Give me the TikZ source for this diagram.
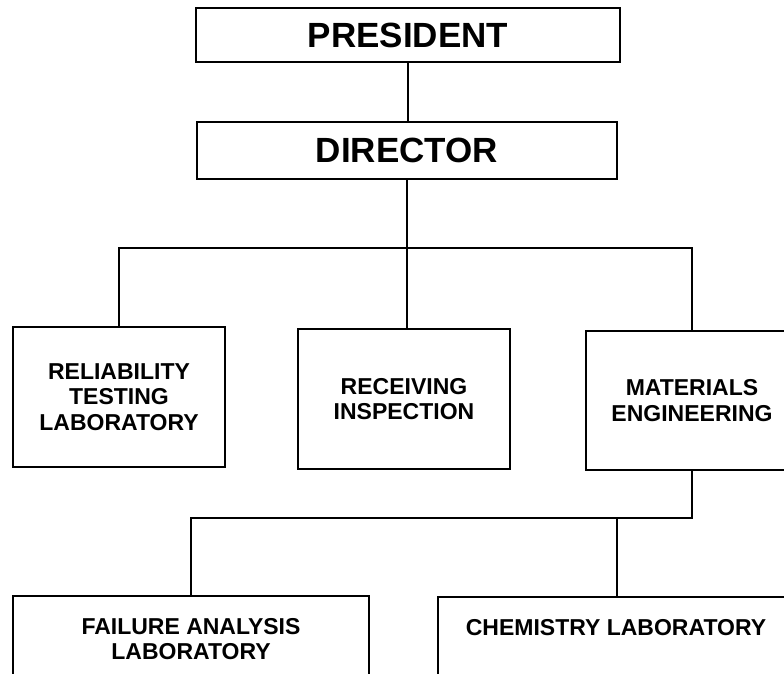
\documentclass[tikz,border=0pt]{standalone}
\usepackage{fontspec}
\setmainfont{Liberation Sans}
\begin{document}
\begin{tikzpicture}[x=1pt,y=-1pt,
  box/.style={draw=black,line width=1.7pt,rectangle,inner sep=0pt,outer sep=0pt,align=center,
    font=\bfseries\fontsize{23}{25.7}\selectfont},
  bigbox/.style={box,font=\bfseries\fontsize{35}{38}\selectfont},
  txt/.style={inner sep=0pt,align=center,font=\bfseries\fontsize{23}{25.7}\selectfont},
  link/.style={draw=black,line width=1.7pt}]
\useasboundingbox (0,0) rectangle (784,673);
\clip (0,0) rectangle (784,673);
\fill[white] (0,0) rectangle (784,673);
% top boxes
\node[bigbox,minimum width=424pt,minimum height=54pt] (pres) at (408,35) {PRESIDENT};
\node[bigbox,minimum width=420pt,minimum height=57pt] (dir) at (407,150.5) {DIRECTOR};
% middle row
\node[box,minimum width=212pt,minimum height=140pt] (rtl) at (119,397) {RELIABILITY\\TESTING\\LABORATORY};
\node[box,minimum width=212pt,minimum height=140pt] (rec) at (404,399) {RECEIVING\\INSPECTION};
\node[box,minimum width=212pt,minimum height=139pt] (mat) at (692,400.5) {MATERIALS\\ENGINEERING};
% bottom row
\node[box,minimum width=356pt,minimum height=86pt] (fail) at (191,639) {FAILURE ANALYSIS\\LABORATORY};
\node[box,minimum width=358pt,minimum height=110pt] (chem) at (617,652) {};
\node[txt] (chemtxt) at (616,628) {CHEMISTRY LABORATORY};
% connectors
\coordinate (bar1) at (405,248);
\coordinate (bar2) at (617,518);
\draw[link] (pres.south) -- (pres.south |- dir.north);
\draw[link] (dir.south) -- (dir.south |- rec.north);
\draw[link] (rtl.north) |- (bar1) -| (mat.north);
\draw[link] (fail.north) |- (bar2) -| (mat.south);
\draw[link] (bar2) -- (chem.north);
\end{tikzpicture}
\end{document}
